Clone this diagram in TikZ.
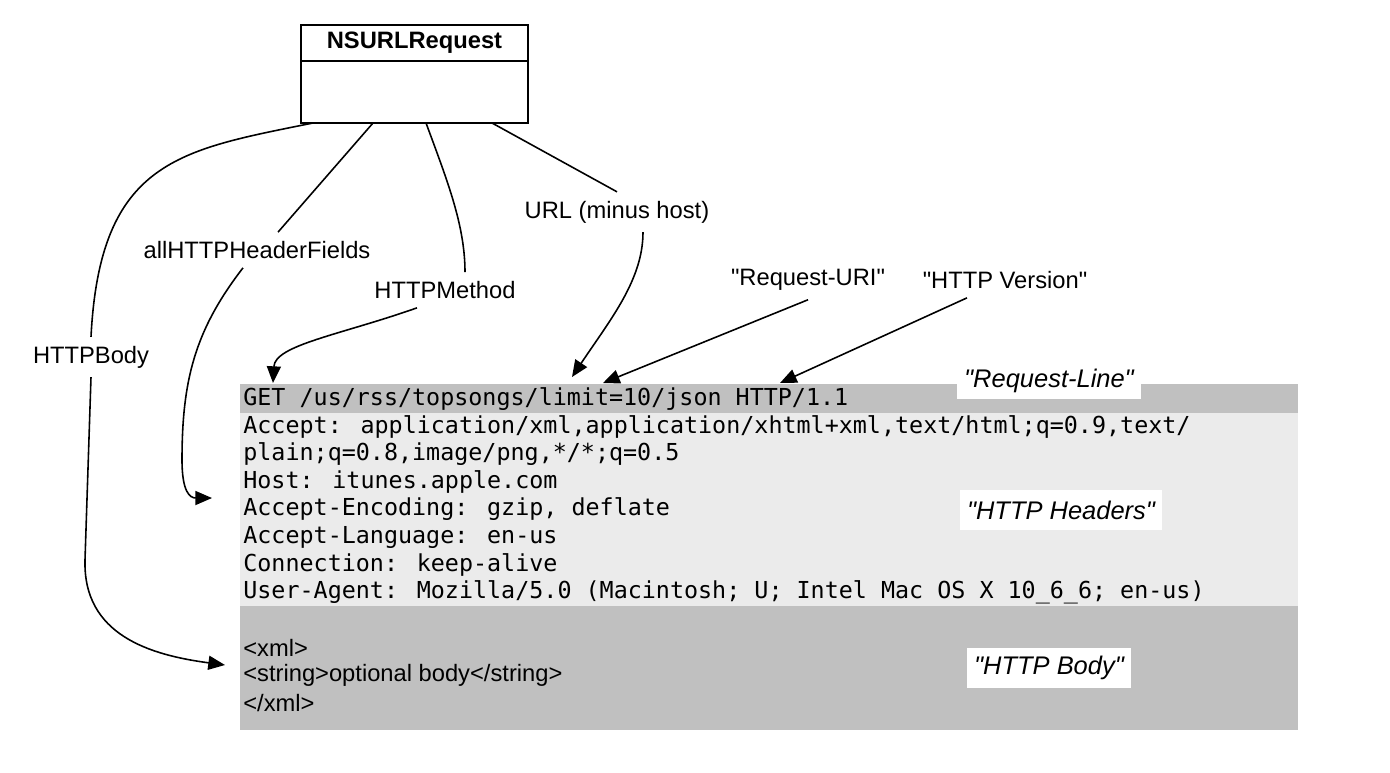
\documentclass[tikz,border=0pt]{standalone}
\usepackage{fontspec}
\usepackage{tikz}
\usetikzlibrary{arrows.meta,calc}
\setmainfont{Liberation Sans}[Ligatures=TeXOff]
\newfontfamily\monofont{DejaVu Sans Mono}
\definecolor{bandgray}{RGB}{192,192,192}
\definecolor{headgray}{RGB}{235,235,235}

\begin{document}
\begin{tikzpicture}[x=0.02cm,y=-0.02cm,
  lbl/.style={font=\fontsize{13.5}{16}\selectfont,inner sep=5pt},
  tag/.style={fill=white,minimum height=0.8cm,inner xsep=4pt,font=\fontsize{14.5}{17}\selectfont\itshape},
  code/.style={anchor=west,inner sep=0pt,font=\monofont\fontsize{13.3}{16}\selectfont},
  xmltext/.style={anchor=west,inner sep=0pt,font=\fontsize{13.5}{16}\selectfont},
  classbox/.style={draw,line width=1.1pt,minimum width=4.54cm,inner sep=0pt,outer sep=0pt},
  link/.style={line width=0.9pt},
  arr/.style={link,-{Triangle[length=9.5pt,width=8pt]}}]
  \useasboundingbox (0,0) rectangle (1390,772);
  % message bands
  \fill[bandgray](240,384)rectangle(1298,413);
  \fill[headgray](240,413)rectangle(1298,606);
  \fill[bandgray](240,606)rectangle(1298,730);
  % class box
  \node[classbox,minimum height=0.72cm,font=\bfseries\fontsize{13.5}{16}\selectfont] (reqtitle) at (414.5,43) {NSURLRequest};
  \node[classbox,minimum height=1.24cm,anchor=north] (reqbody) at (reqtitle.south) {};
  % request line, headers, body
  \node[code] (reqline) at (243,399) {GET /us/rss/topsongs/limit=10/json HTTP/1.1};
  \foreach \txt [count=\i] in {{Accept: application/xml,application/xhtml+xml,text/html;q=0.9,text/},
    {plain;q=0.8,image/png,*/*;q=0.5},{Host: itunes.apple.com},{Accept-Encoding: gzip, deflate},
    {Accept-Language: en-us},{Connection: keep-alive},
    {User-Agent: Mozilla/5.0 (Macintosh; U; Intel Mac OS X 10\_6\_6; en-us)}} {
    \node[code] (hdr\i) at (243,{399+27.6*\i}) {\txt};
  }
  \node[xmltext] (xml1) at (243,648) {<xml>};
  \node[xmltext] (xml2) at (243,675) {<string>optional body</string>};
  \node[xmltext] (xml3) at (243,703) {</xml>};
  \node[tag,minimum height=0.62cm] (linetag) at (1049,381) {"Request-Line"};
  \node[tag] (headtag) at (1061,510) {"HTTP Headers"};
  \node[tag] (bodytag) at (1049,668) {"HTTP Body"};
  % labels
  \node[lbl] (bodylbl) at (91,357) {HTTPBody};
  \node[lbl] (hdrlbl) at (257,250) {allHTTPHeaderFields};
  \node[lbl] (methlbl) at (445,290) {HTTPMethod};
  \node[lbl] (urllbl) at (617,212) {URL (minus host)};
  \node[lbl] (urilbl) at (808,280) {"Request-URI"};
  \node[lbl] (verlbl) at (1005,280) {"HTTP Version"};
  \coordinate (bodypt) at (225,665);
  \coordinate (hdrpt) at (212,498);
  \coordinate (getpt) at (273,383);
  \coordinate (urlpt) at (572,377);
  \coordinate (uript) at (603,383);
  \coordinate (verpt) at (780,383);
  % connectors
  \draw[link]($(reqbody.south west)+(12,0)$)..controls(180,150)and(100,160)..(bodylbl.north);
  \draw[arr](bodylbl.south)--(85,560)..controls(83,635)and(150,655)..(bodypt);
  \draw[link]($(reqbody.south west)+(72,0)$)--($(hdrlbl.north)+(21,0)$);
  \draw[arr]($(hdrlbl.south)+(-14,0)$)..controls(195,330)and(182,380)..(182,460)
    ..controls(182,492)and(190,498)..(hdrpt);
  \draw[link]($(reqbody.south west)+(125,0)$)..controls(447,180)and(465,225)..($(methlbl.north)+(20,0)$);
  \draw[arr]($(methlbl.south)+(-28,0)$)..controls(340,335)and(275,345)..(getpt);
  \draw[link]($(reqbody.south west)+(191,0)$)--(urllbl.north);
  \draw[arr]($(urllbl.south)+(26,0)$)..controls(643,280)and(610,320)..(urlpt);
  \draw[arr](urilbl.south)--(uript);
  \draw[arr]($(verlbl.south)+(-38,0)$)--(verpt);
\end{tikzpicture}
\end{document}
